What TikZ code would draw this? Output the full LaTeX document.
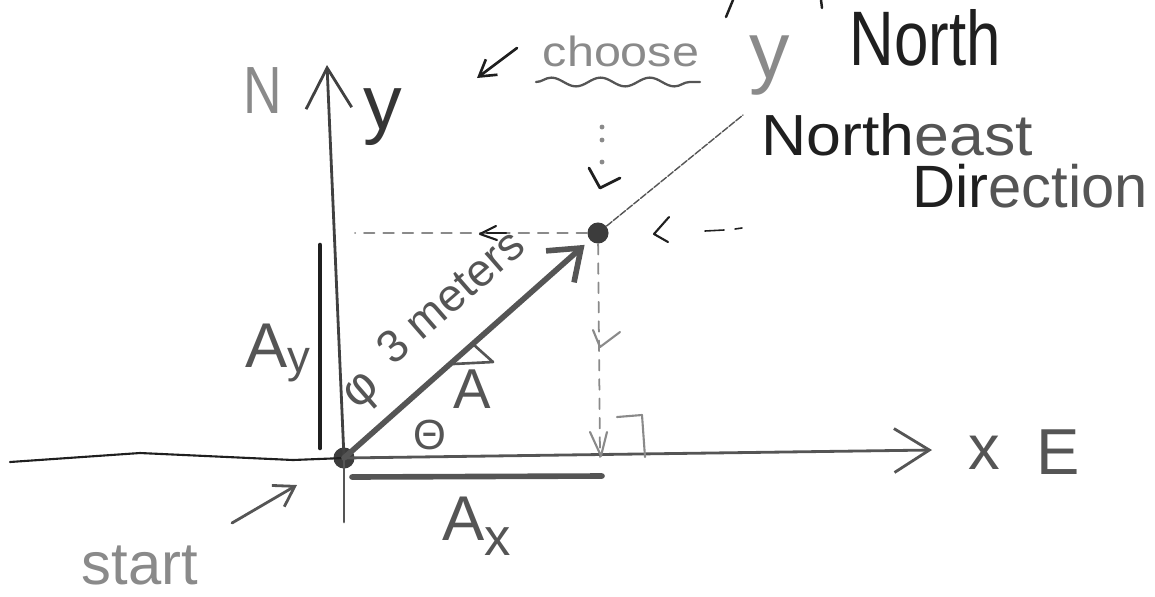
\documentclass[tikz,border=0pt]{standalone}
\usepackage{fontspec}
\setmainfont{Liberation Sans}
\usetikzlibrary{arrows.meta,decorations.pathmorphing}

\definecolor{inkc}{HTML}{1F1F1F}
\definecolor{penc}{HTML}{555555}
\definecolor{palec}{HTML}{8A8A8A}
\newcommand{\hw}[1]{\fontsize{#1}{#1}\selectfont}

\tikzset{
  lbl/.style={inner sep=0pt, text=penc},
  axisline/.style={draw=penc, line width=1.6pt},
  vecline/.style={draw=penc, line width=3.2pt},
  projline/.style={draw=palec, line width=1pt, dash pattern=on 6pt off 5pt},
  hint/.style={draw=inkc, line width=1.2pt},
  dot/.style={circle, fill=penc!70!black, inner sep=0pt, minimum size=12pt},
}

\begin{document}
\begin{tikzpicture}[x=0.02cm, y=-0.02cm, line cap=round, line join=round]
  \useasboundingbox (0,0) rectangle (1155,596);

  % start point and tip of the walk
  \node[dot] (O) at (344,458) {};
  \node[dot] (P) at (598,233) {};
  \coordinate (Ntip) at (327,65);
  \coordinate (Sbot) at (344,522);
  \coordinate (Wend) at (10,462);
  \coordinate (Etip) at (932,450);
  \coordinate (Yfoot) at (355,233);
  \coordinate (Xfoot) at (600,457);
  \coordinate (NEend) at (743,115);

  % axes
  \draw[axisline, draw=inkc!85, <-, >={Straight Barb[length=23pt,width=26pt]}] (Ntip) -- (O.center);
  \draw[axisline] (O.center) -- (Sbot);
  \draw[axisline, draw=inkc, line width=1.2pt] (Wend) -- (140,453) -- (293,460) -- (O.center);
  \draw[axisline, ->, >={Straight Barb[length=20pt,width=25pt]}] (O.center) -- (Etip);
  \node[lbl, text=palec, font=\hw{38}, xscale=0.8] (Nl) at (263,91) {N};
  \node[lbl, text=inkc!90, font=\hw{44}] (yl) at (383,117) {y};
  \node[lbl, font=\hw{36}] (xl) at (984,453) {x};
  \node[lbl, font=\hw{37}] (El) at (1058,452) {E};

  % components
  \draw[draw=inkc, line width=2.6pt] (320,245) -- (320,448);
  \draw[draw=penc, line width=3.2pt] (352,477) -- (602,476);
  \node[lbl, anchor=base west, font=\hw{36}] (Ay) at (245,367) {A\raisebox{-3pt}{\hw{26}y}};
  \node[lbl, anchor=base west, font=\hw{36}] (Ax) at (442,540) {A\raisebox{-9pt}{\hw{30}x}};

  % projections of the tip
  \draw[projline] (P) -- (Yfoot);
  \draw[projline] (P) -- (Xfoot);
  \draw[hint] (496,226) -- (480,234) -- (497,240);
  \draw[hint] (487,233) -- (506,233);
  \draw[hint] (669,217) -- (654,234) -- (668,242);
  \draw[hint, line width=0.9pt] (705,231) -- (724,230);
  \draw[hint, line width=0.9pt] (735,229) -- (742,228);
  \draw[hint, line width=1.6pt] (589,168) -- (600,188) -- (620,178);
  \draw[hint, draw=palec] (593,330) -- (600,347) -- (620,332);
  \draw[hint, draw=palec] (590,432) -- (601,456) -- (607,432);
  \draw[hint, draw=palec] (617,417) -- (642,415) -- (645,457);
  \foreach \yy in {127,140,162}
    \fill[palec] (602,\yy) circle (1.4pt);

  % the displacement
  \draw[vecline, ->, >={Straight Barb[length=16pt,width=24pt]}, shorten >=4pt] (O.center) -- (P);
  \draw[draw=penc, line width=0.8pt, dash pattern=on 4pt off 1pt] (P) -- (NEend);
  \node[lbl, font=\hw{28}, rotate=41] (phi) at (364,394) {φ};
  \node[lbl, font=\hw{26}, rotate=41] (len) at (450,296) {3 meters};
  \node[lbl, font=\hw{32}] (Avec) at (472,389) {A};
  \draw[draw=penc, line width=1.5pt] (453,364) -- (493,362) -- (474,345);
  \node[lbl, font=\hw{24}] (theta) at (430,435) {Θ};

  % notes
  \node[lbl, text=palec, anchor=base, font=\hw{34}] (start) at (140,584) {start};
  \coordinate (startTail) at (232,523);
  \coordinate (startTip) at (297,485);
  \draw[hint, draw=penc, line width=1.6pt, ->, >={Straight Barb[length=11pt,width=14pt]}] (startTail) -- (startTip);

  \node[lbl, text=palec, font=\hw{24}, xscale=1.15] (choose) at (621,51) {choose};
  \coordinate (chooseTail) at (517,48);
  \coordinate (chooseTip) at (477,78);
  \draw[hint, line width=1.5pt, ->, >={Straight Barb[length=9pt,width=11pt]}] (chooseTail) -- (chooseTip);
  \draw[draw=penc, line width=1.3pt, decorate, decoration={snake, amplitude=2.5pt, segment length=28pt}] (536,82) -- (700,82);
  \node[lbl, text=palec, font=\hw{46}] (yN) at (770,66) {y};
  \node[lbl, text=inkc, font=\hw{44}, xscale=0.8] (north) at (925,38) {North};
  \node[lbl, font=\hw{33}, xscale=1.08] (ne) at (897,135) {\color{inkc}North\color{penc}east};
  \node[lbl, font=\hw{34}] (dir) at (1030,186) {\color{inkc}Dir\color{penc}ection};
  \draw[hint, line width=1.4pt] (733,0) -- (726,17);
  \draw[hint, line width=1.4pt] (821,0) -- (822,8);
\end{tikzpicture}
\end{document}
